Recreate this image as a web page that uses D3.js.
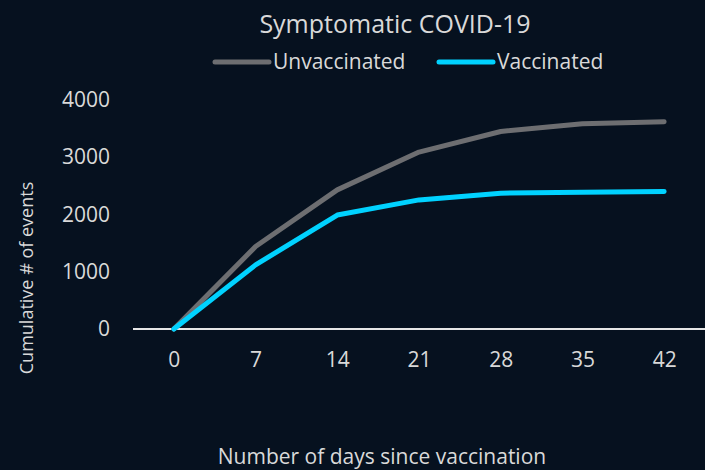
<!DOCTYPE html>
<html><head><meta charset="utf-8">
<script src="https://cdn.jsdelivr.net/npm/d3@7"></script>
<style>html,body{margin:0;padding:0;background:#06111f;}svg{display:block;}</style>
</head><body>
<svg id="c" width="705" height="470"></svg>
<script>
const days = ["0","7","14","21","28","35","42"];
const unvaccinated = [0, 1440, 2430, 3090, 3450, 3585, 3620];
const vaccinated = [0, 1120, 1990, 2255, 2372, 2390, 2400];
const yTicks = [0, 1000, 2000, 3000, 4000];
const seriesNames = ["Unvaccinated", "Vaccinated"];
const seriesColors = ["#6d6e71", "#00d2ff"];

const svg = d3.select("#c");
const W = 705, H = 470;
svg.append("rect").attr("width", W).attr("height", H).attr("fill", "#06111f");
const font = "'Open Sans', 'Noto Sans', sans-serif";
const txt = "#d9d9d9";

const x = d3.scalePoint().domain(days).range([133, 705]).padding(0.5);
const y = d3.scaleLinear().domain([0, 4000]).range([329, 100]);

// y tick labels
const gy = svg.append("g").attr("transform", "translate(133,0)")
  .call(d3.axisLeft(y).tickValues(yTicks).tickFormat(d3.format("d")).tickSize(0).tickPadding(23));
gy.select(".domain").remove();
gy.selectAll("text").attr("fill", txt).style("font-family", font).style("font-size", "21px");

// x axis
const gx = svg.append("g").attr("transform", "translate(0,329)")
  .call(d3.axisBottom(x).tickSize(0).tickPadding(23));
gx.select(".domain").attr("stroke", "#e6e6e6").attr("stroke-width", 2).attr("d", "M133,0H705");
gx.selectAll("text").attr("fill", txt).style("font-family", font).style("font-size", "21px");

const line = d3.line().x((d, i) => x(days[i])).y(d => y(d));
[unvaccinated, vaccinated].forEach((s, k) => {
  svg.append("path").datum(s).attr("d", line).attr("fill", "none")
    .attr("stroke", seriesColors[k]).attr("stroke-width", 5)
    .attr("stroke-linejoin", "round").attr("stroke-linecap", "round");
});

// title
svg.append("text").attr("x", 395).attr("y", 33).attr("text-anchor", "middle")
  .attr("fill", txt).style("font-family", font).style("font-size", "25px").text("Symptomatic COVID-19");

// legend
const legX = [215, 439];
seriesNames.forEach((n, k) => {
  svg.append("line").attr("x1", legX[k]).attr("x2", legX[k] + 54).attr("y1", 62).attr("y2", 62)
    .attr("stroke", seriesColors[k]).attr("stroke-width", 5).attr("stroke-linecap", "round");
  svg.append("text").attr("x", legX[k] + 58).attr("y", 69).attr("fill", txt)
    .style("font-family", font).style("font-size", "21px").text(n);
});

// axis titles
svg.append("text").attr("transform", "translate(33,278) rotate(-90)").attr("text-anchor", "middle")
  .attr("fill", txt).style("font-family", font).style("font-size", "18px").text("Cumulative # of events");
svg.append("text").attr("x", 382).attr("y", 464).attr("text-anchor", "middle")
  .attr("fill", txt).style("font-family", font).style("font-size", "21px").text("Number of days since vaccination");
</script>
</body></html>
